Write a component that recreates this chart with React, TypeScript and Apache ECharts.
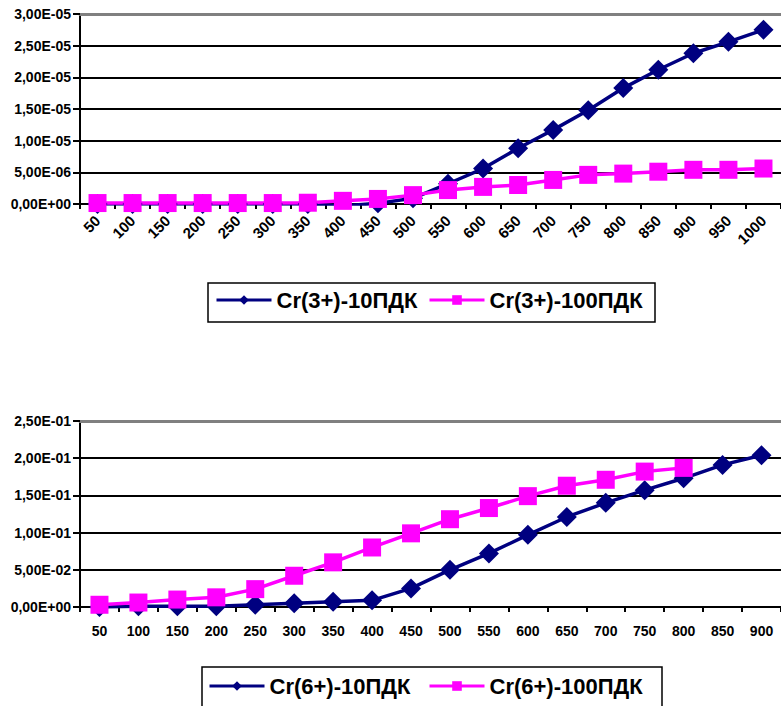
import React, { useEffect, useRef } from "react";
import * as echarts from "echarts";

const categoriesTop = ["50","100","150","200","250","300","350","400","450","500","550","600","650","700","750","800","850","900","950","1000"];
const cr3_10 = [0, 0, 0, 0, 0, 0, 0, -0.3e-6, 0.1e-6, 0.9e-6, 3.2e-6, 5.6e-6, 8.8e-6, 11.7e-6, 14.8e-6, 18.3e-6, 21.2e-6, 23.8e-6, 25.6e-6, 27.5e-6];
const cr3_100 = [0.15e-6, 0.15e-6, 0.15e-6, 0.15e-6, 0.15e-6, 0.15e-6, 0.2e-6, 0.5e-6, 0.8e-6, 1.4e-6, 2.2e-6, 2.7e-6, 3.0e-6, 3.8e-6, 4.6e-6, 4.8e-6, 5.1e-6, 5.4e-6, 5.4e-6, 5.6e-6];

const categoriesBottom = ["50","100","150","200","250","300","350","400","450","500","550","600","650","700","750","800","850","900"];
const cr6_10 = [0, 0.001, 0.001, 0.001, 0.003, 0.005, 0.007, 0.009, 0.025, 0.05, 0.072, 0.097, 0.121, 0.14, 0.157, 0.173, 0.191, 0.204];
const cr6_100 = [0.003, 0.006, 0.01, 0.013, 0.024, 0.042, 0.06, 0.08, 0.099, 0.118, 0.133, 0.149, 0.163, 0.171, 0.182, 0.187];

const NAME_3_10 = "Cr(3+)-10ПДК";
const NAME_3_100 = "Cr(3+)-100ПДК";
const NAME_6_10 = "Cr(6+)-10ПДК";
const NAME_6_100 = "Cr(6+)-100ПДК";

const NAVY = "#000080";
const MAGENTA = "#FF00FF";
const FONT = "'Liberation Sans', Arial, sans-serif";

function sci(v: number): string {
  if (Math.abs(v) < 1e-15) return "0,00E+00";
  let e = Math.floor(Math.log10(Math.abs(v)));
  let m = v / Math.pow(10, e);
  let ms = m.toFixed(2);
  if (parseFloat(ms) >= 10) {
    e += 1;
    m = v / Math.pow(10, e);
    ms = m.toFixed(2);
  }
  const sign = e < 0 ? "-" : "+";
  const ae = Math.abs(e);
  return ms.replace(".", ",") + "E" + sign + (ae < 10 ? "0" + ae : String(ae));
}

export default function App() {
  const ref = useRef<HTMLDivElement>(null);
  useEffect(() => {
    if (!ref.current) return;
    const chart = echarts.init(ref.current, null, { renderer: "svg" });
    const grids = [
      { left: 80, top: 14, width: 708, height: 190 },
      { left: 80, top: 421, width: 705, height: 186 },
    ];
    const yLabel = { fontFamily: FONT, fontWeight: "bold" as const, fontSize: 14, color: "#000", margin: 9, formatter: sci };
    const mkX = (gi: number, data: string[], rotate: number) => ({
      type: "category" as const,
      gridIndex: gi,
      data,
      boundaryGap: true,
      axisLine: { lineStyle: { color: "#000", width: 2 } },
      axisTick: { show: true, length: 5, lineStyle: { color: "#000", width: 2 } },
      axisLabel: {
        fontFamily: FONT, fontWeight: "bold" as const, fontSize: rotate ? 15 : 14, color: "#000",
        rotate, interval: 0, margin: rotate ? 14 : 17,
      },
      splitLine: { show: false },
    });
    const mkXTop = (gi: number, data: string[]) => ({
      type: "category" as const,
      gridIndex: gi,
      data,
      position: "top" as const,
      axisLine: { lineStyle: { color: "#808080", width: 3 } },
      axisTick: { show: false },
      axisLabel: { show: false },
      splitLine: { show: false },
    });
    const mkY = (gi: number, max: number, interval: number) => ({
      type: "value" as const,
      gridIndex: gi,
      min: 0,
      max,
      interval,
      axisLine: { show: true, lineStyle: { color: "#000", width: 2 } },
      axisTick: { show: true, length: 7, lineStyle: { color: "#000", width: 2 } },
      axisLabel: yLabel,
      splitLine: { show: true, lineStyle: { color: "#000", width: 2 } },
    });
    const lineSeries = (name: string, xi: number, yi: number, data: number[], color: string, symbol: string, size: number) => ({
      type: "line" as const,
      name,
      xAxisIndex: xi,
      yAxisIndex: yi,
      data,
      symbol,
      symbolSize: size,
      showSymbol: true,
      lineStyle: { color, width: 3.5 },
      itemStyle: { color, borderWidth: 0 },
      emphasis: { disabled: true },
    });
    const legendBase = {
      orient: "horizontal" as const,
      itemWidth: 55,
      itemHeight: 12,
      itemGap: 0,
      padding: 0,
      lineStyle: { width: 3 },
      textStyle: { fontFamily: FONT, fontWeight: "bold" as const, fontSize: 22, color: "#000" },
      selectedMode: false,
    };
    chart.setOption({
      animation: false,
      backgroundColor: "#fff",
      grid: grids,
      xAxis: [mkX(0, categoriesTop, 45), mkX(1, categoriesBottom, 0), mkXTop(0, categoriesTop), mkXTop(1, categoriesBottom)],
      yAxis: [mkY(0, 3e-5, 5e-6), mkY(1, 0.25, 0.05)],
      series: [
        lineSeries(NAME_3_10, 0, 0, cr3_10, NAVY, "diamond", 20),
        lineSeries(NAME_3_100, 0, 0, cr3_100, MAGENTA, "rect", 18),
        lineSeries(NAME_6_10, 1, 1, cr6_10, NAVY, "diamond", 20),
        lineSeries(NAME_6_100, 1, 1, cr6_100, MAGENTA, "rect", 18),
      ],
      legend: [
        { ...legendBase, data: [NAME_3_10], left: 215, top: 289 },
        { ...legendBase, data: [NAME_3_100], left: 428, top: 289 },
        { ...legendBase, data: [NAME_6_10], left: 208, top: 675 },
        { ...legendBase, data: [NAME_6_100], left: 428, top: 675 },
      ],
      graphic: [
        { type: "rect", shape: { x: 208, y: 283, width: 447, height: 39 }, style: { fill: "none", stroke: "#000", lineWidth: 1.5 }, silent: true },
        { type: "rect", shape: { x: 202, y: 667, width: 460, height: 60 }, style: { fill: "none", stroke: "#000", lineWidth: 1.5 }, silent: true },
      ],
    });
    return () => chart.dispose();
  }, []);
  return (
    <div
      ref={ref}
      style={{ position: "fixed", left: 0, top: 0, width: 781, height: 706, background: "#fff" }}
    />
  );
}
